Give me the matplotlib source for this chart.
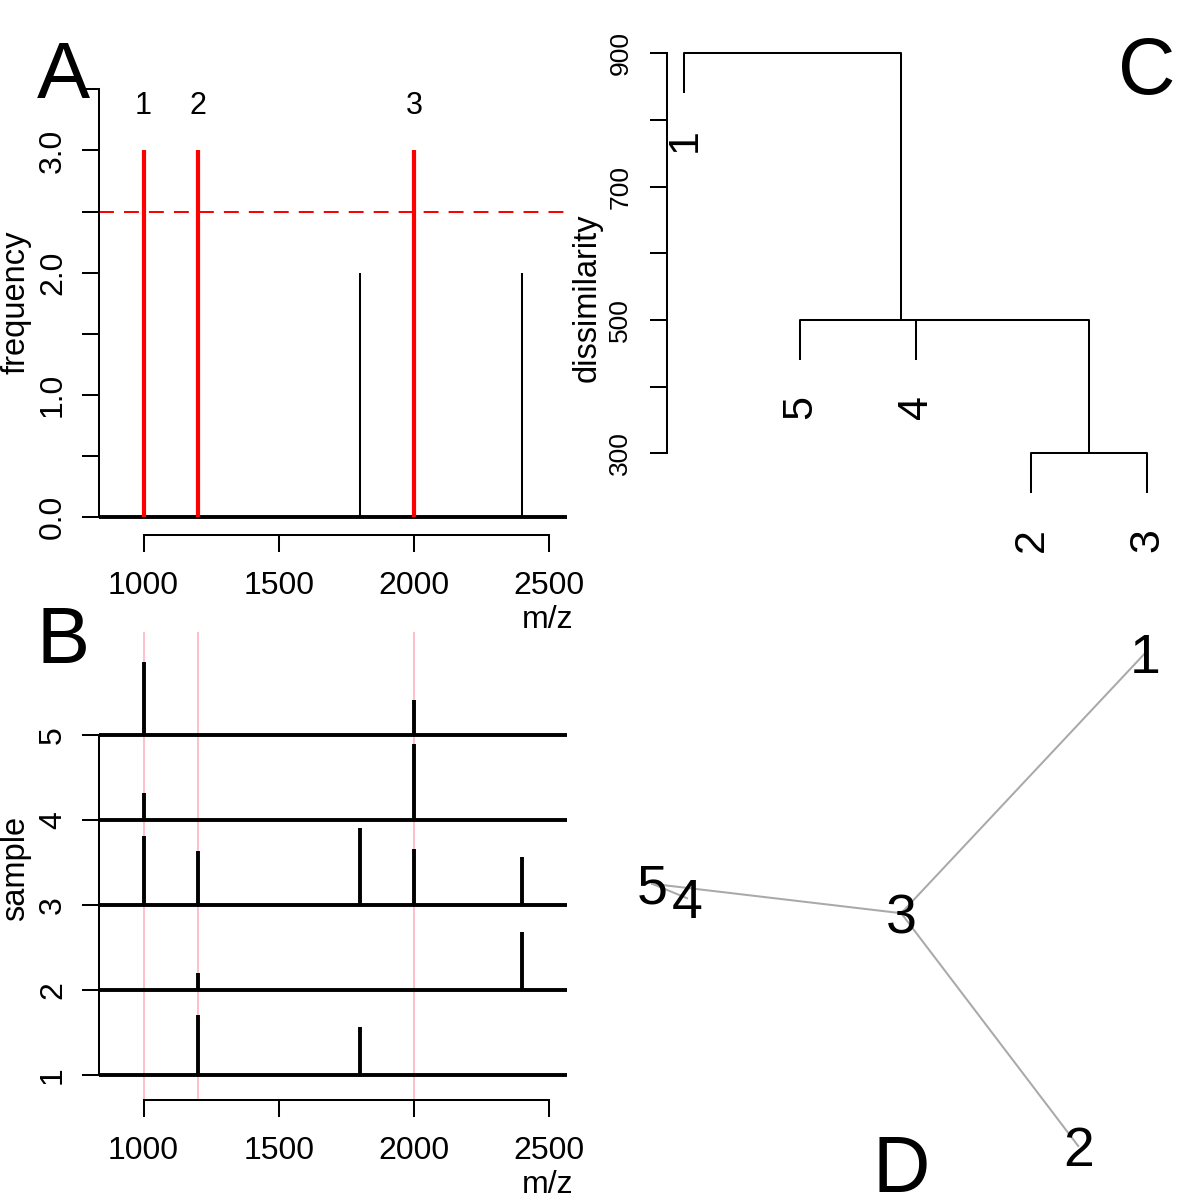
import matplotlib
matplotlib.use('Agg')
import matplotlib.pyplot as plt
from matplotlib.transforms import offset_copy

plt.rcParams['font.family'] = ['Liberation Sans', 'DejaVu Sans']

# panel A: how many samples carry each peak
mz = [1000, 1200, 1800, 2000, 2400]
freq = [3, 3, 2, 3, 2]
threshold = 2.5

# panel B: peaks per sample (intensity relative to row spacing)
b_sample = [1, 1, 2, 2, 3, 3, 3, 3, 3, 4, 4, 5, 5]
b_mz = [1200, 1800, 1200, 2400, 1000, 1200, 1800, 2000, 2400, 1000, 2000, 1000, 2000]
b_int = [0.71, 0.57, 0.20, 0.68, 0.81, 0.635, 0.91, 0.655, 0.57, 0.32, 0.89, 0.86, 0.41]
samples = [1, 2, 3, 4, 5]

# panel C: hclust style merge matrix
merge = [(-2, -3), (-4, 1), (-5, 2), (-1, 3)]
heights = [300, 500, 500, 900]
leaf_order = [1, 5, 4, 2, 3]

# panel D: network layout
node_labels = ['1', '2', '3', '4', '5']
node_x = [0.909, 0.797, 0.502, 0.145, 0.087]
node_y = [0.912, 0.090, 0.478, 0.503, 0.527]
edges = [(1, 3), (2, 3), (3, 5), (5, 4)]

W = H = 1200
LW = 1.45
TICK = 23
LAB = 23.5


def rect(l, t, r, b):
	return [l / W, 1 - b / H, (r - l) / W, (b - t) / H]


def r_axes(ax, ybounds, xbounds=None, size=TICK, ypad=10.2):
	for s in ['top', 'right']:
		ax.spines[s].set_visible(False)
	ax.spines['left'].set_bounds(*ybounds)
	ax.spines['left'].set_linewidth(LW)
	if xbounds is None:
		ax.spines['bottom'].set_visible(False)
		ax.set_xticks([])
	else:
		ax.spines['bottom'].set_bounds(*xbounds)
		ax.spines['bottom'].set_linewidth(LW)
		ax.tick_params(axis='x', pad=14.0)
	ax.tick_params(direction='out', length=12.2, width=LW, labelsize=size)
	ax.tick_params(axis='y', labelrotation=90, pad=ypad)
	plt.setp(ax.get_yticklabels(), va='center')
	ax.patch.set_visible(False)


fig = plt.figure(figsize=(12, 12), dpi=100)
xlim = (836, 2564)

# ---- A
axA = fig.add_axes(rect(99.2, 59.5, 566.7, 534.6))
axA.set_xlim(*xlim)
axA.set_ylim(-0.144, 3.744)
axA.set_xticks([1000, 1500, 2000, 2500])
axA.set_yticks([0, 0.5, 1, 1.5, 2, 2.5, 3, 3.5])
axA.set_yticklabels(['0.0', '', '1.0', '', '2.0', '', '3.0', ''])
r_axes(axA, (0, 3.5), (1000, 2500))
axA.axhline(0, color='black', lw=2.8)
axA.axhline(threshold, color='red', lw=LW, ls=(0, (7.4, 5)))
sel = [m for m, f in zip(mz, freq) if f > threshold]
axA.vlines(mz, 0, freq,
           colors=['red' if f > threshold else 'black' for f in freq],
           linewidths=[3.0 if f > threshold else LW for f in freq])
for i, m in enumerate(sel):
	axA.text(m, 3.294, str(i + 1), ha='center', va='baseline', fontsize=22)

# ---- B
axB = fig.add_axes(rect(99.2, 632, 566.7, 1100))
axB.set_xlim(*xlim)
axB.set_ylim(0.706, 6.212)
axB.set_xticks([1000, 1500, 2000, 2500])
axB.set_yticks(samples)
r_axes(axB, (1, 5), (1000, 2500))
for m in sel:
	axB.axvline(m, color='pink', lw=LW, zorder=1)
axB.hlines(samples, xlim[0], xlim[1], color='black', lw=2.8, zorder=2)
axB.vlines(b_mz, b_sample, [s + v for s, v in zip(b_sample, b_int)],
           color='black', lw=2.8, zorder=3)

# ---- C
axC = fig.add_axes(rect(666.7, 40, 1180, 560))
axC.set_xlim(0.848, 5.284)
axC.set_ylim(140, 919.95)
axC.set_yticks([300, 400, 500, 600, 700, 800, 900])
axC.set_yticklabels(['300', '', '500', '', '700', '', '900'])
r_axes(axC, (300, 900), None, size=19, ypad=12.6)
hang = 0.1 * (max(heights) - min(heights))
pos = {leaf: i + 1 for i, leaf in enumerate(leaf_order)}
cx = {}


def child(c, h):
	if c < 0:
		x = pos[-c]
		top = h - hang
		axC.text(x, top - 52, str(-c), rotation=90, ha='center', va='top', fontsize=31)
		return x, top
	return cx[c], heights[c - 1]


for i, (a, b) in enumerate(merge):
	h = heights[i]
	xa, ta = child(a, h)
	xb, tb = child(b, h)
	axC.plot([xa, xa, xb, xb], [ta, h, h, tb], color='black', lw=LW, solid_capstyle='butt')
	cx[i + 1] = (xa + xb) / 2

# ---- D
axD = fig.add_axes(rect(600, 600, 1200, 1200))
axD.set_xlim(0, 1)
axD.set_ylim(0, 1)
axD.axis('off')
for a, b in edges:
	axD.plot([node_x[a - 1], node_x[b - 1]], [node_y[a - 1], node_y[b - 1]],
	         color='#a9a9a9', lw=LW, zorder=1)
lab_tr = offset_copy(axD.transData, fig=fig, y=-14.3, units='points')
for lab, x, y in zip(node_labels, node_x, node_y):
	axD.text(x, y, lab, ha='center', va='baseline', fontsize=40, transform=lab_tr, zorder=2)

# ---- labels
fig.text(16 / W, 1 - 302 / H, 'frequency', rotation=90, ha='center', va='center', fontsize=LAB)
fig.text(16 / W, 1 - 868 / H, 'sample', rotation=90, ha='center', va='center', fontsize=LAB)
fig.text(587 / W, 1 - 298 / H, 'dissimilarity', rotation=90, ha='center', va='center', fontsize=LAB)
fig.text(573 / W, 1 - 627.6 / H, 'm/z', ha='right', va='baseline', fontsize=TICK)
fig.text(573 / W, 1 - 1193 / H, 'm/z', ha='right', va='baseline', fontsize=TICK)
for letter, x, y in [('A', 63, 98.5), ('B', 63, 663), ('C', 1147, 94), ('D', 901, 1192)]:
	fig.text(x / W, 1 - y / H, letter, ha='center', va='baseline', fontsize=57.3)

fig.savefig('out.png', dpi=100)
